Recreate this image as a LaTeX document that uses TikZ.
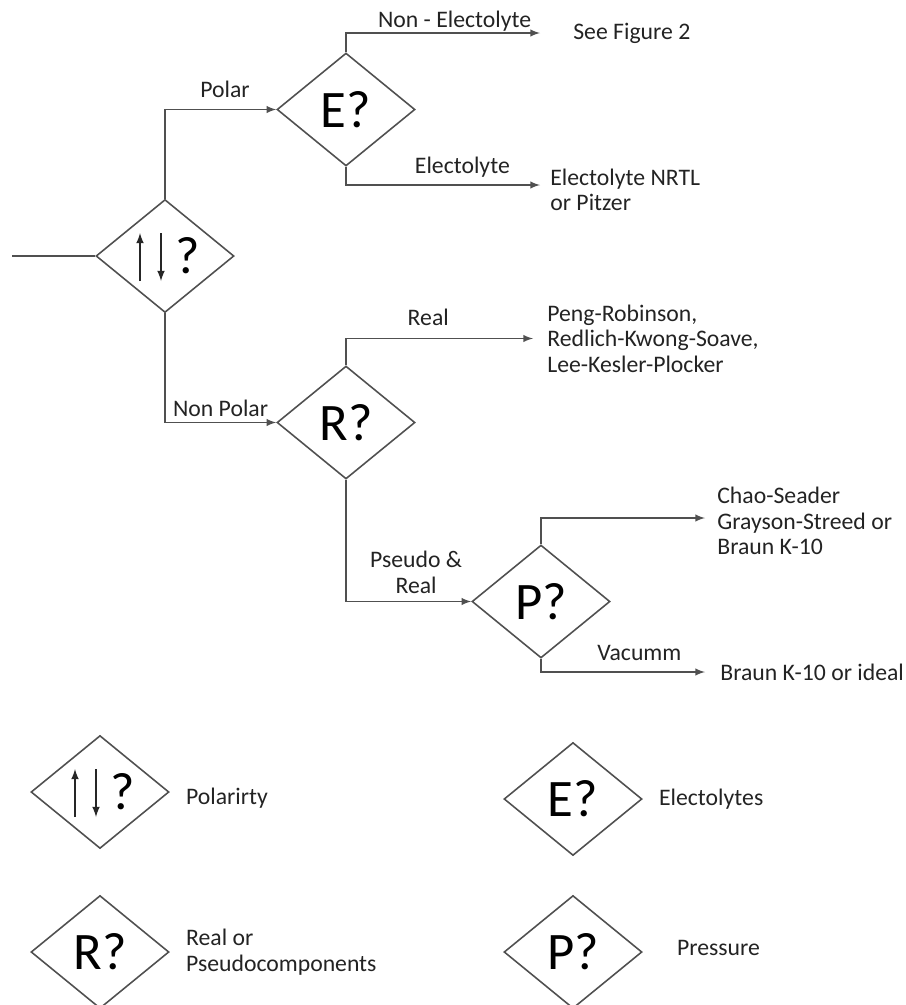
\documentclass[tikz,border=0pt]{standalone}
\usepackage{fontspec}
\setmainfont{Carlito}
\usetikzlibrary{arrows,shapes.geometric,positioning}
\definecolor{linegray}{RGB}{80,80,80}
\definecolor{txtgray}{RGB}{35,35,35}

\begin{document}
\begin{tikzpicture}[x=0.02cm,y=-0.02cm,
  decision/.style={diamond,draw=linegray,line width=0.9pt,minimum width=2.76cm,minimum height=2.26cm,inner sep=0pt,font=\fontsize{30}{32}\selectfont},
  polsign/.style={path picture={
    \draw[black!85,line width=1pt,-latex] ([shift={(-0.5cm,-0.5cm)}]path picture bounding box.center) -- ++(0,0.96cm);
    \draw[black!85,line width=1pt,-latex] ([shift={(-0.08cm,0.46cm)}]path picture bounding box.center) -- ++(0,-0.96cm);}},
  link/.style={draw=linegray,line width=0.9pt},
  branch/.style={link,-latex},
  brlabel/.style={font=\fontsize{13.5}{15}\selectfont,text=txtgray,inner sep=0pt,anchor=base},
  outtext/.style={font=\fontsize{13.5}{14.5}\selectfont,text=txtgray,align=left,inner sep=0pt}]

\useasboundingbox (0,0) rectangle (906,1005);

% decisions
\node[decision,polsign] (pol) at (165,256) {\hspace*{0.92cm}?};
\node[decision] (elec) at (346,109.5) {E?};
\node[decision] (real) at (346,422.5) {R?};
\node[decision] (pres) at (541,601.5) {P?};

% loose ends
\coordinate (in) at (12,256);
\coordinate (t1) at (540,33);
\coordinate (t2) at (540,185);
\coordinate (t3) at (533,338.5);
\coordinate (t4) at (705,518);
\coordinate (t5) at (705,672);

\node[outtext,right=0.66cm of t1] (fig2) {See Figure 2};
\node[outtext,right=0.2cm of t2,yshift=-0.1cm] (nrtl) {Electolyte NRTL\\or Pitzer};
\node[outtext,right=0.28cm of t3] (peng) {Peng-Robinson,\\Redlich-Kwong-Soave,\\Lee-Kesler-Plocker};
\node[outtext,right=0.24cm of t4,yshift=-0.06cm] (chao) {Chao-Seader\\Grayson-Streed or\\Braun K-10};
\node[outtext,right=0.3cm of t5] (braun) {Braun K-10 or ideal};

\draw[link] (in) -- (pol.west);
\draw[branch] (pol.north) |- node[brlabel,pos=.77,yshift=0.24cm] {Polar} (elec.west);
\draw[branch] (pol.south) |- node[brlabel,pos=.75,yshift=0.12cm] {Non Polar} (real.west);
\draw[branch] (elec.north) |- node[brlabel,pos=.78,yshift=0.12cm] {Non - Electolyte} (t1);
\draw[branch] (elec.south) |- node[brlabel,pos=.8,yshift=0.24cm] {Electolyte} (t2);
\draw[branch] (real.north) |- node[brlabel,pos=.72,yshift=0.26cm] {Real} (t3);
\draw[branch] (real.south) |- node[brlabel,pos=.78,anchor=south,align=center,yshift=0.14cm] {Pseudo \&\\Real} (pres.west);
\draw[branch] (pres.north) |- (t4);
\draw[branch] (pres.south) |- node[brlabel,pos=.8,yshift=0.24cm] {Vacumm} (t5);

% key
\node[decision,polsign] (kpol) at (100,792) {\hspace*{0.92cm}?};
\node[decision] (kreal) at (100,952) {R?};
\node[decision] (kelec) at (573,799) {E?};
\node[decision] (kpres) at (573,952) {P?};
\node[outtext,right=0.32cm of kpol,yshift=-0.12cm] (kpoltxt) {Polarirty};
\node[outtext,right=0.32cm of kreal] (krealtxt) {Real or\\Pseudocomponents};
\node[outtext,right=0.32cm of kelec] (kelectxt) {Electolytes};
\node[outtext,right=0.68cm of kpres,yshift=0.08cm] (kprestxt) {Pressure};
\end{tikzpicture}
\end{document}
